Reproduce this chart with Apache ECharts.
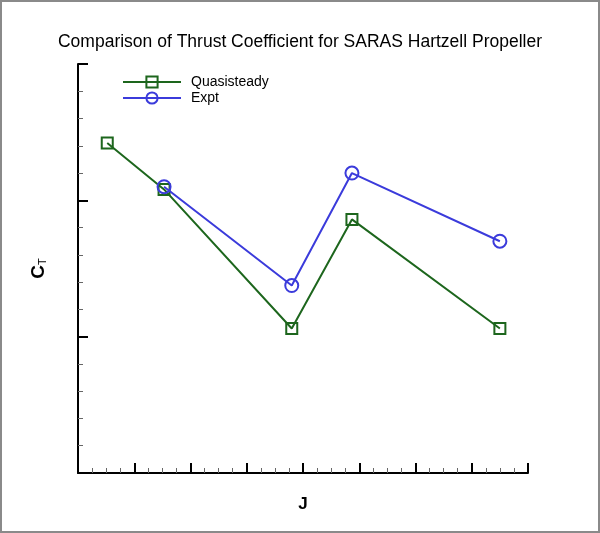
<!DOCTYPE html>
<html>
<head>
<meta charset="utf-8">
<script src="https://cdn.jsdelivr.net/npm/echarts@6/dist/echarts.min.js"></script>
<style>
html,body{margin:0;padding:0;background:#fff;}
#c{width:600px;height:533px;}
</style>
</head>
<body>
<div id="c"></div>
<script>
var titleText = 'Comparison of Thrust Coefficient for SARAS Hartzell Propeller';
var seriesNames = ['Quasisteady', 'Expt'];
var quasiJ = [0.52, 1.53, 3.80, 4.87, 7.50];
var quasiCT = [2.42, 2.08, 1.06, 1.86, 1.06];
var exptJ = [1.53, 3.80, 4.87, 7.50];
var exptCT = [2.10, 1.375, 2.20, 1.70];

var green = '#1d661d';
var blue = '#3b3bdb';

function pairs(xs, ys) { return xs.map(function (x, i) { return [x, ys[i]]; }); }

var chart = echarts.init(document.getElementById('c'));
chart.setOption({
  animation: false,
  graphic: [{
    type: 'rect',
    shape: { x: 1, y: 1, width: 598, height: 531 },
    style: { fill: 'none', stroke: '#8a8a8a', lineWidth: 2 },
    silent: true,
    z: 0
  }],
  title: {
    text: titleText,
    left: 'center',
    top: 33,
    padding: 0,
    textStyle: { fontFamily: 'Liberation Sans', fontWeight: 'normal', fontSize: 17.5, color: '#000' }
  },
  legend: {
    orient: 'vertical',
    left: 122,
    top: 75,
    padding: 0,
    itemWidth: 58,
    itemHeight: 14,
    itemGap: 2,
    textStyle: { fontFamily: 'Liberation Sans', fontSize: 14, color: '#000', padding: [0, 0, 0, 5] },
    data: seriesNames
  },
  grid: { left: 78, right: 72, top: 64, bottom: 60 },
  xAxis: {
    type: 'value',
    min: 0, max: 8, interval: 1,
    name: 'J',
    nameLocation: 'middle',
    nameGap: 23,
    nameTextStyle: { fontFamily: 'Liberation Sans', fontWeight: 'bold', fontSize: 17, color: '#000' },
    axisLine: { show: true, lineStyle: { color: '#000', width: 2 } },
    axisTick: { show: true, inside: true, length: 10, lineStyle: { color: '#000', width: 2 } },
    minorTick: { show: true, splitNumber: 4, length: 5, lineStyle: { color: '#666', width: 1 } },
    axisLabel: { show: false },
    splitLine: { show: false }
  },
  yAxis: {
    type: 'value',
    min: 0, max: 3, interval: 1,
    name: '{c|C}{t|T}',
    nameLocation: 'middle',
    nameGap: 30,
    nameTextStyle: {
      rich: {
        c: { fontFamily: 'Liberation Sans', fontWeight: 'bold', fontSize: 19, color: '#000' },
        t: { fontFamily: 'Liberation Sans', fontSize: 11, color: '#000', padding: [8, 0, 0, 0] }
      }
    },
    axisLine: { show: true, lineStyle: { color: '#000', width: 2 } },
    axisTick: { show: true, inside: true, length: 10, lineStyle: { color: '#000', width: 2 } },
    minorTick: { show: true, splitNumber: 5, length: 5, lineStyle: { color: '#666', width: 1 } },
    axisLabel: { show: false },
    splitLine: { show: false }
  },
  series: [
    {
      name: seriesNames[0],
      type: 'line',
      data: pairs(quasiJ, quasiCT),
      symbol: 'rect',
      symbolSize: 11,
      showAllSymbol: true,
      lineStyle: { color: green, width: 2 },
      itemStyle: { color: 'rgba(255,255,255,0)', borderColor: green, borderWidth: 2 },
      z: 2
    },
    {
      name: seriesNames[1],
      type: 'line',
      data: pairs(exptJ, exptCT),
      symbol: 'circle',
      symbolSize: 13,
      showAllSymbol: true,
      lineStyle: { color: blue, width: 2 },
      itemStyle: { color: 'rgba(255,255,255,0)', borderColor: blue, borderWidth: 2 },
      z: 3
    }
  ]
});
</script>
</body>
</html>
